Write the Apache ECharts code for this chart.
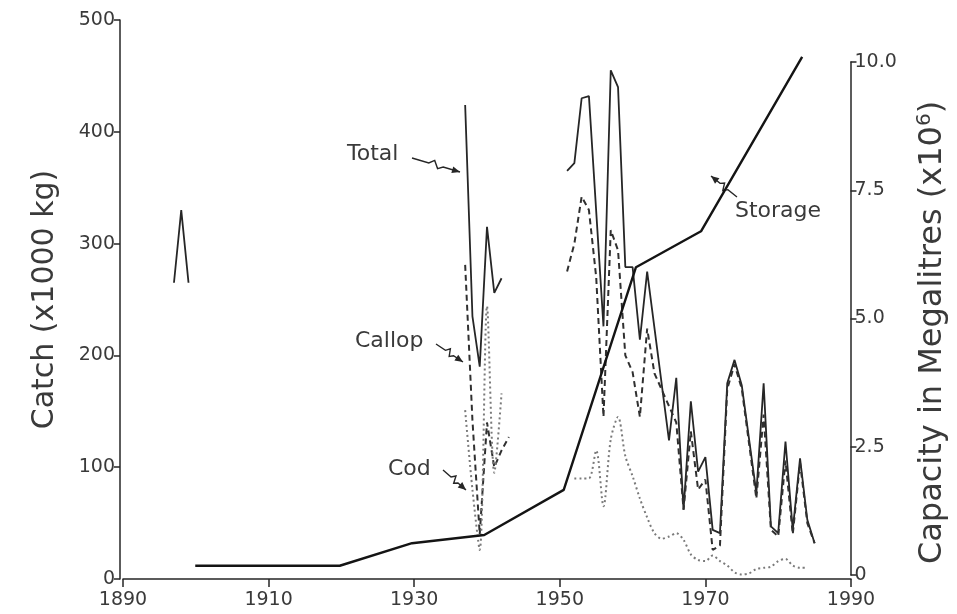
<!DOCTYPE html>
<html>
<head>
<meta charset="utf-8">
<script src="https://cdn.jsdelivr.net/npm/echarts@6/dist/echarts.min.js"></script>
<style>
html,body{margin:0;padding:0;background:#fff}
#chart{width:957px;height:614px}
</style>
</head>
<body>
<div id="chart"></div>
<script>
// Catch of Murray fishes (x1000 kg) and reservoir storage capacity
const xTicks = [1890, 1910, 1930, 1950, 1970, 1990];
const catchTicks = [0, 100, 200, 300, 400, 500];
const storageTicks = [0, 2.5, 5.0, 7.5, 10.0];

// null marks a break in the record
const totalYears = [1897, 1898, 1899, null,
  1937, 1938, 1939, 1940, 1941, 1942, null,
  1951, 1952, 1953, 1954, 1956, 1957, 1958, 1959, 1960, 1961, 1962, 1965, 1966,
  1967, 1968, 1969, 1970, 1971, 1972, 1973, 1974, 1975, 1977, 1978, 1979, 1980,
  1981, 1982, 1983, 1984, 1985];
const totalCatch = [265, 330, 265, null,
  424, 235, 190, 315, 256, 269, null,
  365, 372, 430, 432, 226, 455, 440, 279, 279, 214, 275, 124, 180,
  62, 159, 96, 109, 44, 41, 175, 196, 173, 77, 175, 47, 41,
  123, 44, 108, 53, 32];

const callopYears = [1937, 1938, 1939, 1940, 1941, 1942, 1943, null,
  1951, 1952, 1953, 1954, 1955, 1956, 1957, 1958, 1959, 1960, 1961, 1962, 1963, 1966,
  1967, 1968, 1969, 1970, 1971, 1972, 1973, 1974, 1975, 1977, 1978, 1979, 1980,
  1981, 1982, 1983, 1984, 1985];
const callopCatch = [281, 142, 40, 140, 100, 115, 127, null,
  275, 300, 342, 330, 270, 145, 312, 294, 200, 185, 145, 224, 184, 140,
  62, 132, 80, 89, 26, 30, 170, 192, 170, 72, 147, 44, 38,
  106, 40, 104, 50, 32];

const codYears = [1937, 1938, 1939, 1940, 1941, 1942, null,
  1952, 1953, 1954, 1955, 1956, 1957, 1958, 1959, 1960, 1961, 1962, 1963,
  1964, 1965, 1966, 1967, 1968, 1969, 1970, 1971, 1972, 1973, 1974, 1975, 1976,
  1977, 1978, 1979, 1980, 1981, 1982, 1983, 1984];
const codCatch = [151, 80, 26, 244, 95, 166, null,
  90, 90, 90, 115, 65, 125, 145, 110, 92, 72, 55, 41,
  36, 38, 41, 35, 22, 17, 16, 21, 16, 12, 6, 4, 5,
  9, 10, 11, 16, 18, 12, 10, 10];

const storageYears = [1900, 1920, 1930, 1940, 1951, 1961, 1970, 1984];
const storageCapacity = [0.18, 0.18, 0.62, 0.78, 1.66, 6.0, 6.7, 10.1];

function pairs(xs, ys) {
  return xs.map((x, i) => (x === null ? [null, '-'] : [x, ys[i]]));
}

const ink = '#262626';
const textColor = '#3a3a3a';
const font = 'DejaVu Sans, Liberation Sans, sans-serif';

const chart = echarts.init(document.getElementById('chart'), null, {renderer: 'canvas'});

const axisLine = {show: true, lineStyle: {color: ink, width: 1.5}};
const axisTick = {show: true, length: 6, lineStyle: {color: ink, width: 1.5}};

chart.setOption({
  animation: false,
  backgroundColor: '#fff',
  textStyle: {fontFamily: font},
  grid: [
    {left: 123, right: 106, top: 20, bottom: 35},
    {left: 123, right: 106, top: 62, bottom: 39}
  ],
  xAxis: [
    {
      type: 'value', gridIndex: 0, min: xTicks[0], max: xTicks[xTicks.length - 1], interval: 20,
      axisLine: axisLine, axisTick: {show: true, length: 8, lineStyle: {color: ink, width: 1.5}},
      splitLine: {show: false},
      axisLabel: {color: textColor, fontSize: 19, margin: 12, fontFamily: font, formatter: v => String(v)}
    },
    {
      type: 'value', gridIndex: 1, min: xTicks[0], max: xTicks[xTicks.length - 1],
      show: false
    }
  ],
  yAxis: [
    {
      type: 'value', gridIndex: 0, min: catchTicks[0], max: catchTicks[catchTicks.length - 1], interval: 100,
      axisLine: axisLine, axisTick: axisTick, splitLine: {show: false}, offset: 3,
      axisLabel: {color: textColor, fontSize: 19, margin: 5, fontFamily: font},
      name: 'Catch (x1000 kg)', nameLocation: 'middle', nameGap: 60, nameRotate: 90,
      nameTextStyle: {color: textColor, fontSize: 30, fontFamily: font}
    },
    {
      type: 'value', gridIndex: 1, position: 'right', min: storageTicks[0],
      max: storageTicks[storageTicks.length - 1], interval: 2.5, offset: 5,
      axisLine: axisLine, axisTick: axisTick, splitLine: {show: false},
      axisLabel: {
        color: textColor, fontSize: 19, margin: 4, fontFamily: font,
        formatter: v => (v === 0 ? '0' : v.toFixed(1))
      },
      name: 'Capacity in Megalitres (x10{sup|6})', nameLocation: 'middle', nameGap: 64, nameRotate: 90,
      nameTextStyle: {
        color: textColor, fontSize: 32, fontFamily: font, padding: [0, 28, 0, 0],
        rich: {sup: {fontSize: 20, fontFamily: font, color: textColor, padding: [0, 0, 17, 0]}}
      }
    }
  ],
  series: [
    {
      name: 'Total', type: 'line', xAxisIndex: 0, yAxisIndex: 0, symbol: 'none',
      connectNulls: false, data: pairs(totalYears, totalCatch),
      lineStyle: {color: ink, width: 1.8}
    },
    {
      name: 'Callop', type: 'line', xAxisIndex: 0, yAxisIndex: 0, symbol: 'none',
      connectNulls: false, data: pairs(callopYears, callopCatch),
      lineStyle: {color: '#303030', width: 2, type: [6, 4]}
    },
    {
      name: 'Cod', type: 'line', xAxisIndex: 0, yAxisIndex: 0, symbol: 'none', smooth: 0.3,
      connectNulls: false, data: pairs(codYears, codCatch),
      lineStyle: {color: '#7a7a7a', width: 2, type: [2, 3]}
    },
    {
      name: 'Storage', type: 'line', xAxisIndex: 1, yAxisIndex: 1, symbol: 'none', clip: false,
      data: pairs(storageYears, storageCapacity),
      lineStyle: {color: '#141414', width: 2.4}
    }
  ]
});

// squiggle pointer from a label towards a line
function pointer(x0, y0, x1, y1) {
  const dx = x1 - x0, dy = y1 - y0;
  const len = Math.hypot(dx, dy), ux = dx / len, uy = dy / len;
  const nx = -uy, ny = ux;
  const p = t => [x0 + dx * t, y0 + dy * t];
  const off = (pt, d) => [pt[0] + nx * d, pt[1] + ny * d];
  const pts = [p(0), p(0.35), off(p(0.45), -4), off(p(0.55), 3), p(0.65), p(1)];
  const hx = x1 - ux * 8, hy = y1 - uy * 8;
  return [
    {type: 'polyline', shape: {points: pts}, style: {stroke: ink, lineWidth: 1.4, fill: null}},
    {type: 'polygon', shape: {points: [[x1, y1], [hx + nx * 3.5, hy + ny * 3.5], [hx - nx * 3.5, hy - ny * 3.5]]},
     style: {fill: ink}}
  ];
}

const labelStyle = {fill: textColor, fontSize: 22, fontFamily: font};
chart.setOption({
  graphic: [
    {type: 'text', left: 347, top: 143, style: Object.assign({text: 'Total'}, labelStyle)},
    {type: 'text', left: 355, top: 330, style: Object.assign({text: 'Callop'}, labelStyle)},
    {type: 'text', left: 388, top: 458, style: Object.assign({text: 'Cod'}, labelStyle)},
    {type: 'text', left: 735, top: 200, style: Object.assign({text: 'Storage'}, labelStyle)}
  ].concat(
    pointer(412, 158, 460, 172),
    pointer(436, 344, 463, 362),
    pointer(443, 470, 466, 490),
    pointer(737, 197, 711, 176)
  )
});
</script>
</body>
</html>
